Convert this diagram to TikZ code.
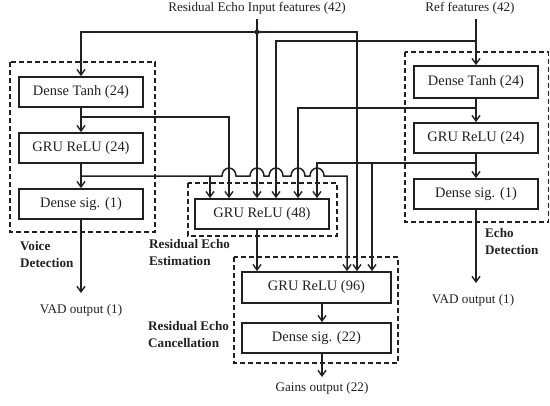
\documentclass[tikz,border=0pt]{standalone}
\usepackage{fontspec}
\setmainfont{Liberation Serif}
\usetikzlibrary{arrows.meta}
\newcommand\boxfnt{\fontsize{14.5}{17}\selectfont}
\newcommand\lblfnt{\fontsize{13.2}{15}\selectfont}
\newcommand\grpfnt{\fontsize{13.2}{17}\selectfont\bfseries}
\definecolor{ink}{HTML}{231F20}
\begin{document}
\begin{tikzpicture}[x=1bp,y=-1bp,
  box/.style={draw=ink, text=ink, line width=1.8bp, minimum width=124bp, minimum height=30bp, inner sep=0pt, font=\boxfnt},
  grp/.style={draw=ink, line width=1.4bp, dash pattern=on 5bp off 3bp},
  conn/.style={draw=ink, line width=1.5bp},
  arr/.style={conn, -{Straight Barb[length=5.5bp,width=8bp,line width=1.4bp]}},
  lbl/.style={font=\lblfnt, text=ink, inner sep=0pt},
  glbl/.style={font=\grpfnt, text=ink, align=left, anchor=north west, inner sep=0pt}]
\useasboundingbox (0,0) rectangle (550,405);
% group frames
\draw[grp] (10,62) rectangle (155,232);
\draw[grp] (188,183) rectangle (337,236);
\draw[grp] (234,257) rectangle (398,363);
\draw[grp] (405,52) rectangle (548.5,222);
% boxes
\node[box] (ldt) at (81,92) {Dense Tanh (24)};
\node[box] (lgru) at (81,148) {GRU ReLU (24)};
\node[box] (lds) at (81,204) {Dense sig. (1)};
\node[box, minimum height=32bp] (rdt) at (476,82) {Dense Tanh (24)};
\node[box] (rgru) at (476,138) {GRU ReLU (24)};
\node[box] (rds) at (476,194) {Dense sig. (1)};
\node[box, minimum width=134bp] (g48) at (262,214) {GRU ReLU (48)};
\node[box, minimum width=149bp, minimum height=31bp] (g96) at (316.5,287.5) {GRU ReLU (96)};
\node[box, minimum width=149bp] (ds22) at (316.5,338) {Dense sig. (22)};
% texts
\node[lbl] (rin) at (257,8) {Residual Echo Input features (42)};
\node[lbl] (ref) at (470,8) {Ref features (42)};
\node[lbl] (lvad) at (81,310) {VAD output (1)};
\node[lbl] (rvad) at (473,300) {VAD output (1)};
\node[lbl] (gains) at (322,388) {Gains output (22)};
\node[glbl] (vd) at (20,241) {Voice\\Detection};
\node[glbl] (ree) at (149,239) {Residual Echo\\Estimation};
\node[glbl] (rec) at (148,321) {Residual Echo\\Cancellation};
\node[glbl] (ed) at (485,228) {Echo\\Detection};
% coordinates
\coordinate (rintop) at (257,19);
\coordinate (reftop) at (476,19);
\coordinate (split) at (257,32);
\coordinate (lvadend) at (81,293);
\coordinate (rvadend) at (476,283);
\coordinate (gainsend) at (322,377);
% residual echo input
\draw[arr] (rintop) -- (rintop |- g48.north);
\fill[ink] (split) circle[radius=2.4bp];
\draw[arr] (split) -- (81,32) -- (ldt.north);
\draw[arr] (split) -- (357,32) -- (357,32 |- g96.north);
% ref input
\draw[arr] (reftop) -- (rdt.north);
\draw[arr] (476,41) -- (276,41) -- (276,41 |- g48.north);
% left chain
\draw[arr] (ldt.south) -- (lgru.north);
\draw[arr] (lgru.south) -- (lds.north);
\draw[arr] (lds.south) -- (lvadend);
\draw[arr] (81,117) -- (229,117) -- (229,117 |- g48.north);
\draw[arr] (81,176) -- (222,176) arc[start angle=180,end angle=0,x radius=7bp,y radius=8bp]
  -- (250,176) arc[start angle=180,end angle=0,x radius=7bp,y radius=8bp]
  -- (269,176) arc[start angle=180,end angle=0,x radius=7bp,y radius=8bp]
  -- (291,176) arc[start angle=180,end angle=0,x radius=7bp,y radius=8bp]
  -- (310,176) arc[start angle=180,end angle=0,x radius=7bp,y radius=8bp]
  -- (347,176) -- (347,176 |- g96.north);
\draw[arr] (210,176) -- (210,176 |- g48.north);
% right chain
\draw[arr] (rdt.south) -- (rgru.north);
\draw[arr] (rgru.south) -- (rds.north);
\draw[arr] (rds.south) -- (rvadend);
\draw[arr] (476,108) -- (298,108) -- (298,108 |- g48.north);
\draw[arr] (476,163) -- (317,163) -- (317,163 |- g48.north);
\draw[arr] (372,163) -- (372,163 |- g96.north);
% middle
\draw[arr] (g48.south) ++(-5,0) coordinate (g48o) -- (g48o |- g96.north);
\draw[arr] (322,303) coordinate (g96o) (g96o |- g96.south) -- (g96o |- ds22.north);
\draw[arr] (322,353) coordinate (d22o) (d22o |- ds22.south) -- (gainsend);
\end{tikzpicture}
\end{document}
